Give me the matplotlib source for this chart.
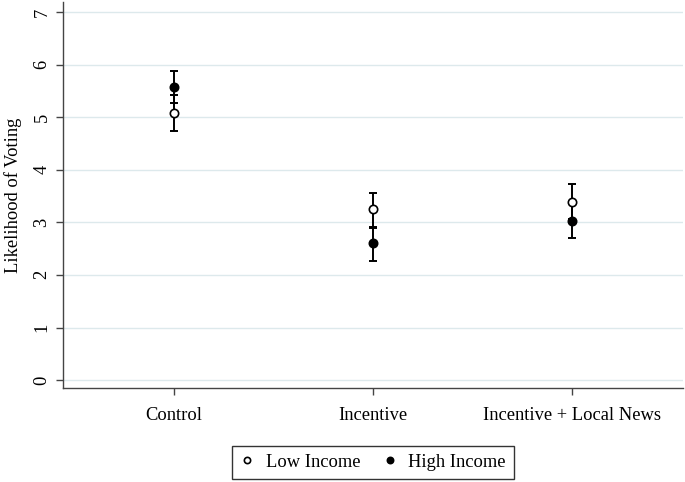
import numpy as np
import matplotlib.pyplot as plt
from matplotlib.lines import Line2D

plt.rcParams['font.family'] = ['Liberation Serif', 'DejaVu Serif']

# data
groups = ['Control', 'Incentive', 'Incentive + Local News']
low_mean = [5.07, 3.25, 3.39]
low_lo = [4.74, 2.90, 3.06]
low_hi = [5.43, 3.55, 3.72]
high_mean = [5.58, 2.60, 3.03]
high_lo = [5.26, 2.27, 2.71]
high_hi = [5.88, 2.92, 3.39]

x = np.arange(1, len(groups) + 1)

fig = plt.figure(figsize=(6.85, 4.82), dpi=100)
ax = fig.add_axes([0.092, 0.195, 0.905, 0.801])

low_err = [np.array(low_mean) - np.array(low_lo), np.array(low_hi) - np.array(low_mean)]
high_err = [np.array(high_mean) - np.array(high_lo), np.array(high_hi) - np.array(high_mean)]

# error bars first, markers on top
ax.errorbar(x, low_mean, yerr=low_err, fmt='none', ecolor='black', elinewidth=1.4,
            capsize=3.2, capthick=1.4, zorder=3)
ax.errorbar(x, high_mean, yerr=high_err, fmt='none', ecolor='black', elinewidth=1.4,
            capsize=3.2, capthick=1.4, zorder=3)
ax.plot(x, low_mean, 'o', mfc='white', mec='black', ms=6, mew=1.2, zorder=5)
ax.plot(x, high_mean, 'o', mfc='black', mec='black', ms=6, mew=1.2, zorder=5)

ax.set_xlim(0.442, 3.558)
ax.set_ylim(-0.15, 7.19)
ax.set_xticks(x)
ax.set_xticklabels(groups, fontsize=13.3)
ax.set_yticks(range(0, 8))
ax.set_yticklabels([str(i) for i in range(0, 8)], fontsize=13.3, rotation=90, va='center')
ax.set_ylabel('Likelihood of Voting', fontsize=13.3, labelpad=8)

ax.grid(axis='y', color='#dde9ec', linewidth=1.0)
ax.set_axisbelow(True)
for s in ['top', 'right']:
    ax.spines[s].set_visible(False)
for s in ['left', 'bottom']:
    ax.spines[s].set_color('#444444')
    ax.spines[s].set_linewidth(1.0)
ax.tick_params(axis='both', length=5, width=1.0, color='#444444', labelcolor='black')
ax.tick_params(axis='x', pad=9)
ax.tick_params(axis='y', pad=4)

handles = [Line2D([], [], marker='o', ls='none', mfc='white', mec='black', ms=4.5, mew=1.2),
           Line2D([], [], marker='o', ls='none', mfc='black', mec='black', ms=4.5, mew=1.2)]
leg = fig.legend(handles, ['Low Income', 'High Income'], loc='center',
                 bbox_to_anchor=(0.5446, 0.0407), ncol=2, fontsize=13.3, frameon=True,
                 fancybox=False, edgecolor='black', handlelength=0.8, handletextpad=0.6,
                 columnspacing=1.2, borderpad=0.45)
leg.get_frame().set_linewidth(1.0)

fig.savefig('out.png', dpi=100)
